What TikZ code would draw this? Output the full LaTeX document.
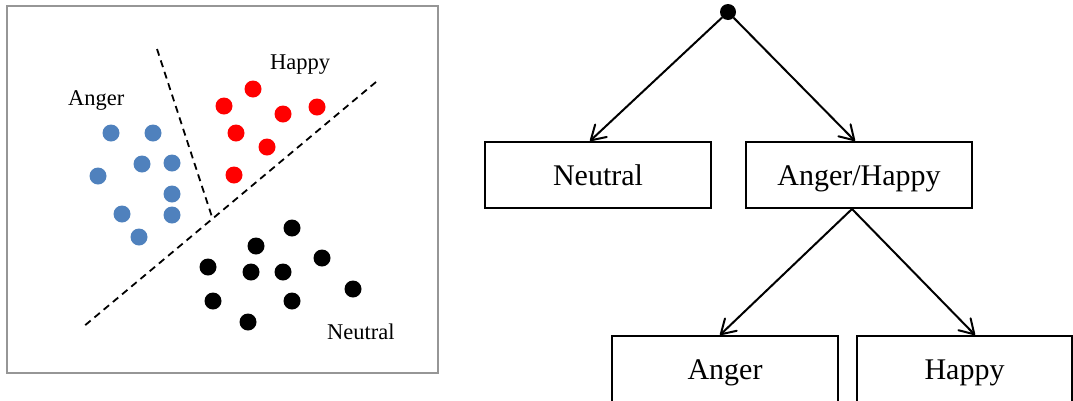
\documentclass[tikz,border=0pt]{standalone}
\usepackage{fontspec}
\setmainfont{Liberation Serif}
\usetikzlibrary{arrows.meta,calc}
\definecolor{dotblue}{RGB}{79,129,189}
\definecolor{framegray}{RGB}{150,150,150}
\begin{document}
\begin{tikzpicture}[x=1pt,y=-1pt,
  dot/.style={circle,inner sep=0pt,minimum size=17pt},
  bluedot/.style={dot,fill=dotblue},
  reddot/.style={dot,fill=red},
  blackdot/.style={dot,fill=black},
  sep/.style={line width=1.8pt,dash pattern=on 7pt off 5pt},
  lab/.style={inner sep=0pt,anchor=base west,font=\fontsize{22.5}{26}\selectfont},
  box/.style={draw,line width=2pt,minimum width=226pt,minimum height=66pt,inner sep=0pt,
              text height=20pt,text depth=0pt,font=\fontsize{30}{34}\selectfont},
  arr/.style={line width=2pt,-{Straight Barb[length=14pt,width=17pt,line width=2pt,round]}}]
\useasboundingbox (0,0) rectangle (1073,400);
\clip (0,0) rectangle (1073,400);
% left panel
\draw[framegray,line width=1.2pt] (7,6) rectangle (438,373);
\draw[sep] (157,49) -- (213,220);
\draw[sep] (376,82) -- (83,327);
\foreach \x/\y [count=\i] in {111/133,153/133,98/176,142/164,172/163,172/194,122/214,172/215,139/237}
  \node[bluedot] (b\i) at (\x,\y) {};
\foreach \x/\y [count=\i] in {253/89,224/106,283/114,317/107,236/133,267/147,234/175}
  \node[reddot] (r\i) at (\x,\y) {};
\foreach \x/\y [count=\i] in {292/228,256/246,322/258,208/267,251/272,283/272,353/289,213/301,292/301,248/322}
  \node[blackdot] (k\i) at (\x,\y) {};
\node[lab] (langer) at (68,105) {Anger};
\node[lab] (lhappy) at (270,69) {Happy};
\node[lab] (lneutral) at (327,339) {Neutral};
% tree
\node[circle,fill=black,inner sep=0pt,minimum size=16pt] (root) at (728,12) {};
\node[box] (neutral) at (598,175) {Neutral};
\node[box] (ah) at (859,175) {Anger/Happy};
\node[box] (anger) at (725,369) {Anger};
\node[box,minimum width=215pt] (happy) at (964.5,369) {Happy};
\coordinate (nIn) at ($(neutral.north)+(-8,0)$);
\coordinate (ahIn) at ($(ah.north)+(-4,0)$);
\coordinate (split) at ($(ah.south)+(-7,0)$);
\coordinate (angerIn) at ($(anger.north)+(-5,0)$);
\coordinate (happyIn) at ($(happy.north)+(10.5,0)$);
\draw[arr] (root) -- (nIn);
\draw[arr] (root) -- (ahIn);
\draw[arr] (split) -- (angerIn);
\draw[arr] (split) -- (happyIn);
\end{tikzpicture}
\end{document}
